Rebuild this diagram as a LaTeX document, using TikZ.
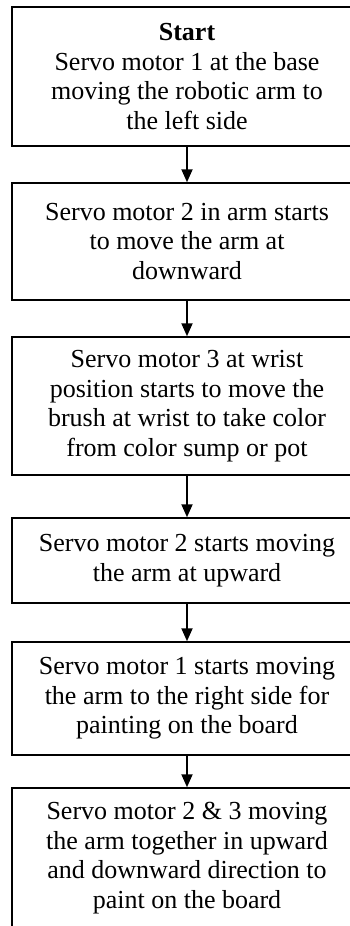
\documentclass[tikz,border=0pt]{standalone}
\usepackage{fontspec}
\setmainfont{Liberation Serif}
\usetikzlibrary{arrows.meta}
\begin{document}
\begin{tikzpicture}[x=1pt,y=1pt,
  stepbox/.style={draw, line width=1.5pt, rectangle, minimum width=350pt, inner sep=0pt, align=center, font=\fontsize{26}{29.5}\selectfont},
  flow/.style={line width=2pt, -{Triangle[width=11pt,length=13pt]}}]
\useasboundingbox (0,0) rectangle (350,-926);
\node[stepbox, minimum height=139pt] (b1) at (187,-76.5) {\textbf{Start}\\Servo motor 1 at the base\\moving the robotic arm to\\the left side};
\node[stepbox, minimum height=117pt] (b2) at (187,-241.5) {Servo motor 2 in arm starts\\to move the arm at\\downward};
\node[stepbox, minimum height=138pt] (b3) at (187,-406) {Servo motor 3 at wrist\\position starts to move the\\brush at wrist to take color\\from color sump or pot};
\node[stepbox, minimum height=85pt] (b4) at (187,-560.5) {Servo motor 2 starts moving\\the arm at upward};
\node[stepbox, minimum height=113pt] (b5) at (187,-698.5) {Servo motor 1 starts moving\\the arm to the right side for\\painting on the board};
\node[stepbox, minimum height=140pt] (b6) at (187,-858) {Servo motor 2 \& 3 moving\\the arm together in upward\\and downward direction to\\paint on the board};
\draw[flow] (b1.south) -- (b2.north);
\draw[flow] (b2.south) -- (b3.north);
\draw[flow] (b3.south) -- (b4.north);
\draw[flow] (b4.south) -- (b5.north);
\draw[flow] (b5.south) -- (b6.north);
\end{tikzpicture}
\end{document}
